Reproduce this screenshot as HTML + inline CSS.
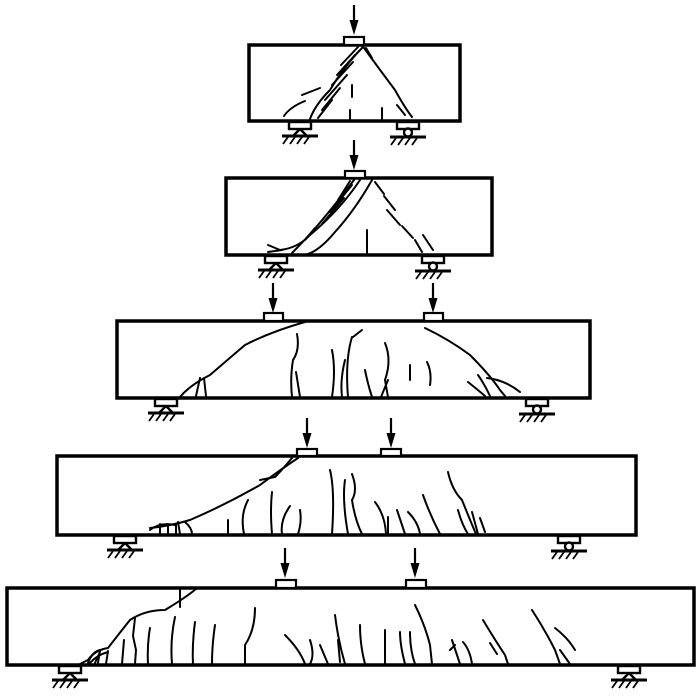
<!DOCTYPE html>
<html><head><meta charset="utf-8"><style>html,body{margin:0;padding:0;background:#fff}svg{display:block}</style></head>
<body>
<svg width="700" height="700" viewBox="0 0 700 700" xmlns="http://www.w3.org/2000/svg">
<defs>
<g id="pin" stroke="#000" stroke-width="2.4" fill="#fff">
<rect x="-11" y="1" width="22" height="7"/>
<path d="M0 8 L-7 15 M0 8 L7 15" fill="none"/>
<path d="M-18 15 H18" stroke-width="3"/>
<path d="M-12 16 l-5 7 M-5 16 l-5 7 M2 16 l-5 7 M9 16 l-5 7" stroke-width="1.8"/>
</g>
<g id="rol" stroke="#000" stroke-width="2.4" fill="#fff">
<rect x="-11" y="1" width="22" height="7"/>
<circle cx="0" cy="11.5" r="4"/>
<path d="M-18 16 H18" stroke-width="3"/>
<path d="M-12 17 l-5 7 M-5 17 l-5 7 M2 17 l-5 7 M9 17 l-5 7" stroke-width="1.8"/>
</g>
<g id="arr"><path d="M0 0 V20" stroke="#000" stroke-width="2.2"/><path d="M-4.5 15 L4.5 15 L0 30 Z" fill="#000"/></g>
</defs>
<g fill="none" stroke="#000" stroke-width="3.5">
<rect x="249" y="45" width="211" height="76"/>
<rect x="226" y="178" width="266" height="77"/>
<rect x="117" y="321" width="473" height="77"/>
<rect x="57" y="456" width="579" height="79"/>
<rect x="7" y="588" width="687" height="77"/>
</g>
<g fill="#fff" stroke="#000" stroke-width="2.2">
<rect x="344" y="37" width="20" height="8"/>
<rect x="345" y="171" width="20" height="7"/>
<rect x="264" y="313" width="19" height="8"/>
<rect x="424" y="313" width="19" height="8"/>
<rect x="297" y="449" width="20" height="7"/>
<rect x="381" y="449" width="20" height="7"/>
<rect x="276" y="580" width="20" height="8"/>
<rect x="406" y="580" width="20" height="8"/>
</g>
<use href="#arr" x="354" y="5"/>
<use href="#arr" x="354" y="140"/>
<use href="#arr" x="273" y="283"/>
<use href="#arr" x="433" y="283"/>
<use href="#arr" x="307" y="418"/>
<use href="#arr" x="391" y="418"/>
<use href="#arr" x="285" y="548"/>
<use href="#arr" x="415" y="548"/>
<use href="#pin" x="300" y="121"/>
<use href="#rol" x="408" y="121"/>
<use href="#pin" x="276" y="255"/>
<use href="#rol" x="433" y="255"/>
<use href="#pin" x="166" y="398"/>
<use href="#rol" x="537" y="398"/>
<use href="#pin" x="125" y="535"/>
<use href="#rol" x="569" y="535"/>
<use href="#pin" x="70" y="665"/>
<use href="#pin" x="629" y="665"/>
<g fill="none" stroke="#000" stroke-width="2" stroke-linecap="round">
<path d="M363 47 Q345 65 330 90 Q315 105 310 119"/>
<path d="M358 47 L341 65 M355 55 L337 75 M353 62 L332 85 M347 75 L325 100 M340 88 L322 110 M332 100 L318 118"/>
<path d="M364 48 Q380 70 395 90 Q405 108 412 117"/>
<path d="M366 48 L372 58 M397 105 L405 115"/>
<path d="M284 116 Q290 107 305 101 M302 95 L320 88"/>
<path d="M352 85 V97 M350 110 V120 M382 108 V119"/>
<path d="M354 180 Q335 205 318 225 Q305 240 292 253"/>
<path d="M360 180 Q340 210 310 235 Q298 248 280 250 M280 250 L268 245 M282 250 L268 252"/>
<path d="M350 181 L338 200 M352 185 L330 212 M344 198 L322 224 M315 228 L305 240"/>
<path d="M372 180 Q355 210 335 232 Q320 250 308 254"/>
<path d="M375 182 L384 194 M384 196 L395 210 M387 210 L400 225 M402 226 L413 238 M415 240 L422 252 M423 235 L433 250"/>
<path d="M367 230 V254"/>
<path d="M305 322 Q270 332 245 345 Q225 362 210 375 Q190 385 180 397"/>
<path d="M200 378 L196 396 M204 378 L206 396"/>
<path d="M297 334 Q300 350 293 360 Q290 378 292 397 M296 372 L300 397"/>
<path d="M332 350 Q336 370 332 397 M345 360 Q340 380 342 397 M352 337 Q345 360 348 397 M353 337 L362 330 M365 370 Q368 385 372 397 M385 343 Q392 360 385 380 L388 397 M388 380 L381 397 M410 365 L410 380 M427 362 Q432 372 430 385"/>
<path d="M425 328 Q450 340 470 355 Q490 375 500 390 L505 396"/>
<path d="M468 382 Q478 390 485 396 M478 375 Q485 385 490 396 M487 378 Q505 380 520 392"/>
<path d="M298 458 Q280 470 260 485 Q225 505 190 520 Q170 526 150 528"/>
<path d="M292 458 Q282 470 275 477 L260 480"/>
<path d="M150 530 Q160 522 175 525 M160 524 V534 M168 524 V534 M176 524 V534 M185 522 Q192 528 192 534 M178 522 L180 534"/>
<path d="M228 520 V534 M248 500 Q240 515 244 534 M272 492 Q270 510 272 534 M290 506 Q280 520 282 534 M300 510 Q302 522 298 534"/>
<path d="M330 470 Q335 490 332 534 M345 480 Q342 500 348 534 M352 474 Q358 490 352 500 Q355 520 362 534 M375 502 Q385 515 386 534 M388 517 L388 534 M397 510 L405 534 M408 512 Q418 522 420 534 M423 495 Q430 515 440 534 M448 472 Q452 490 462 500 Q470 520 476 534 M458 510 Q462 525 468 534 M472 512 L478 534 M480 518 L485 532"/>
<path d="M196 589 Q185 598 165 610 Q145 610 130 620 Q118 635 108 648 Q95 650 88 660 L80 664"/>
<path d="M180 589 V607"/>
<path d="M88 663 Q92 652 100 650 M90 663 Q97 655 108 652 M95 663 L100 652 M108 651 L106 664 M100 650 L98 663"/>
<path d="M135 618 L133 636 L136 650 L135 664 M124 640 L122 664"/>
<path d="M150 628 Q147 645 148 664 M175 617 Q170 640 172 664 M195 622 Q192 645 193 664 M215 625 Q212 645 212 664 M255 608 Q255 630 245 645 L245 664 M335 615 Q338 640 345 664 M360 625 Q360 645 365 664 M385 630 L385 664 M400 632 Q400 645 405 664 M410 632 Q410 650 415 664 M415 605 Q425 625 430 645 L432 664 M452 640 L460 664 M455 645 L450 650 M463 642 Q470 650 472 664"/>
<path d="M285 635 Q300 650 305 664 M310 640 Q315 655 310 664 M320 645 L328 664 M340 662 L338 640"/>
<path d="M483 620 Q495 640 505 655 L508 664 M490 643 L497 654 M532 610 Q545 630 555 650 L560 664 M555 628 Q568 638 575 650 M560 650 L570 664"/>
</g>
</svg>
</body></html>
